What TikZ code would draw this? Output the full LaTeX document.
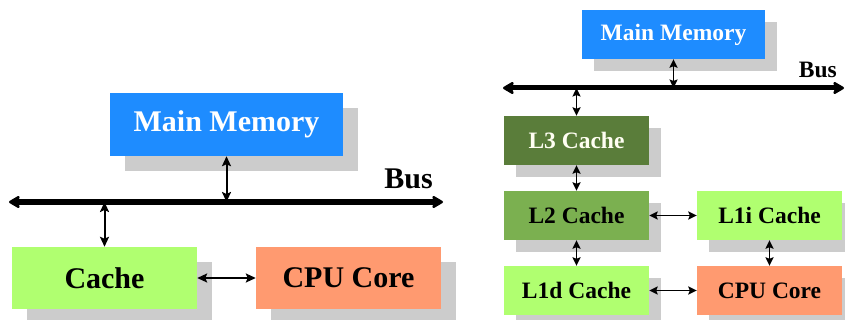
\documentclass[tikz,border=0pt]{standalone}
\usepackage{fontspec}
\setmainfont{Liberation Serif}
\usetikzlibrary{arrows.meta}
\definecolor{memblue}{HTML}{1E8CFF}
\definecolor{cachelight}{HTML}{B0FF70}
\definecolor{cachemid}{HTML}{7BB050}
\definecolor{cachedark}{HTML}{5A7D3A}
\definecolor{coresalmon}{HTML}{FF9A70}
\definecolor{shadowgray}{HTML}{CCCCCC}
\tikzset{
  unit/.style={rectangle, inner sep=0pt, font=\bfseries,
    preaction={fill=shadowgray, transform canvas={shift={(#1,-#1)}}}},
  bigunit/.style={unit=15pt, minimum width=185pt, minimum height=62pt, font=\fontsize{30}{32}\selectfont\bfseries},
  smallunit/.style={unit=12pt, minimum width=145pt, minimum height=49pt, font=\fontsize{23.5}{25}\selectfont\bfseries},
  link/.style={line width=2pt, {Stealth[length=10pt,width=9pt,inset=2pt]}-{Stealth[length=10pt,width=9pt,inset=2pt]}},
  smalllink/.style={line width=1.8pt, {Stealth[length=8.5pt,width=8pt,inset=1.5pt]}-{Stealth[length=8.5pt,width=8pt,inset=1.5pt]}},
  busline/.style={line width=5.5pt, {Stealth[length=13pt,width=15pt,inset=3pt,round]}-{Stealth[length=13pt,width=15pt,inset=3pt,round]}},
}
\begin{document}
\begin{tikzpicture}[x=1pt,y=-1pt]
\useasboundingbox (0,0) rectangle (845,320);

% ---- single cache level ----
\node[bigunit, fill=memblue, text=white, minimum width=233pt, minimum height=63pt] (mmA) at (226.5,124.5) {Main Memory};
\node[bigunit, fill=cachelight] (cacheA) at (104.5,278) {Cache};
\node[bigunit, fill=coresalmon] (coreA) at (348.5,278) {CPU Core};

\coordinate (busAl) at (9,202);
\coordinate (busAr) at (443,202);
\draw[busline] (busAl) -- (busAr);
\node[font=\fontsize{30}{32}\selectfont\bfseries, anchor=south east, inner sep=0pt] (busAlabel) at (433,189) {Bus};

\draw[link] (mmA.south) -- (mmA.south |- busAl);
\draw[link] (cacheA.north) -- (cacheA.north |- busAl);
\draw[link] (cacheA.east) -- (coreA.west);

% ---- three cache levels ----
\node[smallunit, fill=memblue, text=white, minimum width=183pt] (mmB) at (673.5,34.5) {Main Memory};
\node[smallunit, fill=cachedark, text={white!95!yellow}] (l3) at (576.5,140.5) {L3 Cache};
\node[smallunit, fill=cachemid] (l2) at (576.5,215.5) {L2 Cache};
\node[smallunit, fill=cachelight] (l1d) at (576.5,290.5) {L1d Cache};
\node[smallunit, fill=cachelight] (l1i) at (769.5,215.5) {L1i Cache};
\node[smallunit, fill=coresalmon] (coreB) at (769.5,290.5) {CPU Core};

\coordinate (busBl) at (503,88);
\coordinate (busBr) at (844,88);
\draw[busline, line width=5pt] (busBl) -- (busBr);
\node[font=\fontsize{23.5}{25}\selectfont\bfseries, anchor=south east, inner sep=0pt] (busBlabel) at (837,78) {Bus};

\draw[smalllink] (mmB.south) -- (mmB.south |- busBl);
\draw[smalllink] (l3.north) -- (l3.north |- busBl);
\draw[smalllink] (l3.south) -- (l2.north);
\draw[smalllink] (l2.south) -- (l1d.north);
\draw[smalllink] (l2.east) -- (l1i.west);
\draw[smalllink] (l1i.south) -- (coreB.north);
\draw[smalllink] (l1d.east) -- (coreB.west);
\end{tikzpicture}
\end{document}
